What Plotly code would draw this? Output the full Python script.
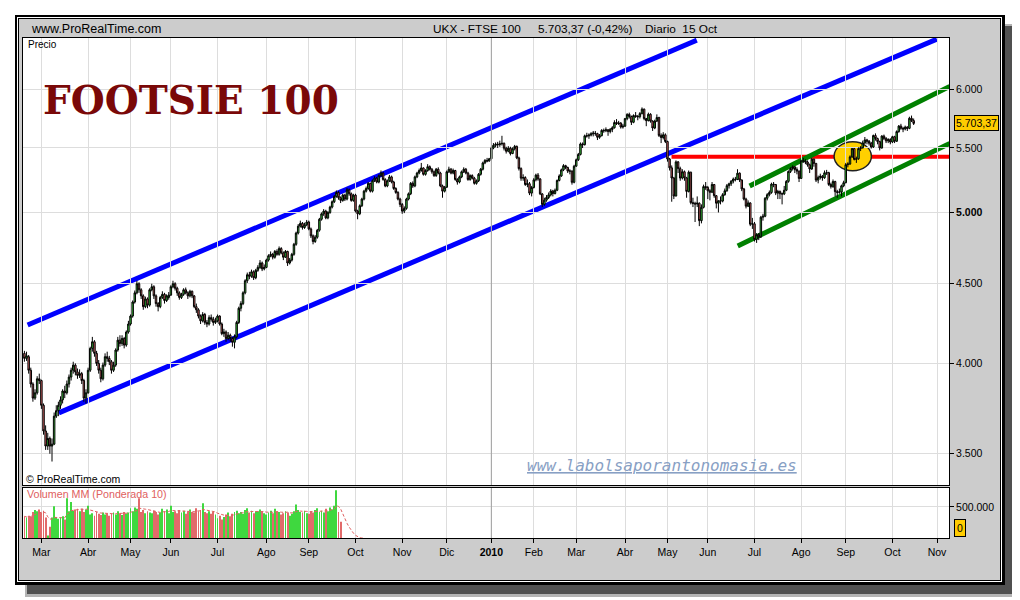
import numpy as np
import pandas as pd
import plotly.graph_objects as go

# FTSE 100 (UKX) daily candles
# one list per month, rows are (open, high, low, close)
feb09 = [(4060, 4075, 4010, 4030), (4030, 4070, 4015, 4045), (4040, 4050, 3940, 3960), (3960, 3975, 3860, 3880),
         (3880, 3890, 3780, 3800), (3800, 3850, 3790, 3830), (3830, 3925, 3820, 3910), (3910, 3940, 3880, 3900)]
mar09 = [(3900, 3905, 3740, 3760), (3760, 3770, 3600, 3620), (3620, 3650, 3520, 3540), (3540, 3610, 3520, 3580),
         (3580, 3590, 3500, 3540), (3540, 3580, 3460, 3550), (3550, 3720, 3545, 3700), (3700, 3760, 3690, 3730),
         (3730, 3780, 3700, 3760), (3760, 3810, 3740, 3790), (3790, 3850, 3770, 3840), (3840, 3870, 3800, 3830),
         (3830, 3900, 3820, 3880), (3880, 3935, 3860, 3920), (3920, 3975, 3900, 3960), (3960, 4010, 3940, 3990),
         (3990, 4000, 3930, 3950), (3950, 3970, 3910, 3930), (3930, 3965, 3915, 3940), (3940, 3950, 3880, 3900),
         (3900, 3910, 3780, 3800), (3800, 3850, 3770, 3830)]
apr09 = [(3830, 3975, 3825, 3960), (3960, 4100, 3950, 4090), (4090, 4160, 4070, 4130), (4130, 4140, 4040, 4060),
         (4060, 4075, 3985, 4000), (4000, 4020, 3940, 3960), (3960, 3975, 3890, 3910), (3910, 4005, 3900, 3990),
         (3990, 4060, 3980, 4040), (4040, 4070, 4010, 4030), (4030, 4045, 3990, 4010), (4010, 4020, 3940, 3960),
         (3960, 4010, 3950, 3990), (3990, 4090, 3980, 4080), (4080, 4160, 4070, 4140), (4140, 4170, 4100, 4120),
         (4120, 4170, 4105, 4150), (4150, 4160, 4090, 4110), (4110, 4200, 4100, 4190), (4190, 4260, 4180, 4240)]
may09 = [(4240, 4300, 4230, 4290), (4290, 4390, 4280, 4380), (4380, 4455, 4370, 4440), (4440, 4520, 4430, 4500),
         (4500, 4510, 4440, 4460), (4460, 4470, 4400, 4420), (4420, 4430, 4330, 4350), (4350, 4415, 4340, 4400),
         (4400, 4410, 4340, 4360), (4360, 4470, 4350, 4460), (4460, 4500, 4450, 4480), (4480, 4490, 4400, 4420),
         (4420, 4430, 4350, 4370), (4370, 4380, 4320, 4350), (4350, 4420, 4340, 4410), (4410, 4450, 4400, 4430),
         (4430, 4440, 4370, 4390), (4390, 4430, 4380, 4420), (4410, 4445, 4395, 4425)]
jun09 = [(4425, 4490, 4420, 4480), (4480, 4520, 4470, 4500), (4500, 4510, 4455, 4470), (4470, 4480, 4420, 4440),
         (4440, 4450, 4395, 4410), (4410, 4440, 4400, 4430), (4430, 4470, 4420, 4460), (4460, 4475, 4430, 4440),
         (4440, 4450, 4400, 4420), (4420, 4460, 4410, 4450), (4450, 4455, 4405, 4420), (4420, 4425, 4340, 4350),
         (4350, 4370, 4310, 4330), (4330, 4340, 4275, 4290), (4290, 4300, 4240, 4260), (4260, 4315, 4250, 4300),
         (4300, 4310, 4235, 4250), (4250, 4265, 4220, 4240), (4240, 4295, 4230, 4280), (4280, 4300, 4255, 4270),
         (4270, 4285, 4230, 4250), (4250, 4280, 4240, 4260)]
jul09 = [(4260, 4300, 4250, 4290), (4290, 4295, 4230, 4240), (4240, 4250, 4170, 4180), (4180, 4210, 4160, 4190),
         (4190, 4200, 4130, 4150), (4150, 4190, 4140, 4170), (4170, 4180, 4130, 4150), (4150, 4160, 4100, 4127),
         (4127, 4175, 4090, 4160), (4160, 4260, 4150, 4250), (4250, 4350, 4240, 4340), (4340, 4385, 4320, 4370),
         (4370, 4450, 4360, 4440), (4440, 4530, 4430, 4520), (4520, 4575, 4505, 4560), (4560, 4580, 4530, 4550),
         (4550, 4595, 4540, 4580), (4580, 4590, 4525, 4540), (4540, 4600, 4530, 4590), (4590, 4625, 4580, 4610),
         (4610, 4660, 4600, 4640), (4640, 4650, 4585, 4600), (4600, 4630, 4590, 4610)]
aug09 = [(4610, 4670, 4605, 4660), (4660, 4700, 4650, 4690), (4690, 4720, 4680, 4700), (4700, 4710, 4665, 4680),
         (4680, 4730, 4670, 4720), (4720, 4735, 4690, 4700), (4700, 4755, 4690, 4740), (4740, 4750, 4700, 4710),
         (4710, 4720, 4660, 4680), (4680, 4730, 4675, 4720), (4720, 4725, 4620, 4640), (4640, 4675, 4630, 4660),
         (4660, 4710, 4650, 4700), (4700, 4780, 4690, 4770), (4770, 4860, 4760, 4850), (4850, 4915, 4840, 4900),
         (4900, 4940, 4890, 4920), (4920, 4930, 4875, 4890), (4890, 4925, 4880, 4910), (4910, 4945, 4900, 4930)]
sep09 = [(4930, 4940, 4870, 4880), (4880, 4890, 4815, 4830), (4830, 4840, 4770, 4790), (4790, 4835, 4780, 4820),
         (4820, 4880, 4810, 4870), (4870, 4960, 4860, 4950), (4950, 5000, 4940, 4990), (4990, 5025, 4975, 5010),
         (5010, 5020, 4950, 4960), (4960, 5010, 4950, 5000), (5000, 5050, 4990, 5040), (5040, 5090, 5030, 5080),
         (5080, 5130, 5070, 5120), (5120, 5165, 5110, 5150), (5150, 5160, 5095, 5110), (5110, 5120, 5070, 5090),
         (5090, 5140, 5080, 5130), (5130, 5140, 5085, 5100), (5100, 5185, 5090, 5170), (5170, 5180, 5125, 5140),
         (5140, 5150, 5080, 5090), (5090, 5140, 5080, 5130)]
oct09 = [(5130, 5140, 5000, 5010), (5010, 5020, 4950, 4990), (4990, 5060, 4980, 5050), (5050, 5110, 5040, 5100),
         (5100, 5170, 5090, 5160), (5160, 5195, 5150, 5180), (5180, 5230, 5170, 5220), (5220, 5225, 5150, 5160),
         (5160, 5250, 5150, 5240), (5240, 5275, 5230, 5260), (5260, 5270, 5220, 5230), (5230, 5290, 5220, 5280),
         (5280, 5320, 5270, 5300), (5300, 5310, 5240, 5250), (5250, 5260, 5190, 5200), (5200, 5250, 5190, 5240),
         (5240, 5285, 5230, 5270), (5270, 5280, 5220, 5230), (5230, 5240, 5170, 5180), (5180, 5190, 5140, 5150),
         (5150, 5160, 5090, 5100), (5100, 5110, 5040, 5060)]
nov09 = [(5060, 5070, 4990, 5010), (5010, 5045, 4995, 5030), (5030, 5110, 5020, 5100), (5100, 5150, 5090, 5140),
         (5140, 5230, 5130, 5220), (5220, 5235, 5185, 5200), (5200, 5280, 5190, 5270), (5270, 5310, 5260, 5300),
         (5300, 5335, 5290, 5320), (5320, 5380, 5310, 5340), (5340, 5345, 5280, 5290), (5290, 5330, 5280, 5320),
         (5320, 5370, 5310, 5350), (5350, 5360, 5320, 5330), (5330, 5340, 5295, 5310), (5310, 5320, 5270, 5280),
         (5280, 5340, 5270, 5330), (5330, 5345, 5290, 5300), (5300, 5310, 5190, 5200), (5200, 5210, 5110, 5160),
         (5160, 5200, 5150, 5190)]
dec09 = [(5190, 5320, 5185, 5310), (5310, 5350, 5300, 5330), (5330, 5340, 5290, 5300), (5300, 5335, 5290, 5320),
         (5320, 5325, 5240, 5250), (5250, 5260, 5210, 5230), (5230, 5280, 5220, 5270), (5270, 5320, 5260, 5310),
         (5310, 5345, 5300, 5330), (5330, 5340, 5290, 5300), (5300, 5310, 5240, 5250), (5250, 5290, 5240, 5280),
         (5280, 5290, 5250, 5260), (5260, 5270, 5210, 5220), (5220, 5250, 5210, 5240), (5240, 5300, 5230, 5290),
         (5290, 5340, 5280, 5330), (5330, 5390, 5320, 5380), (5380, 5410, 5370, 5400), (5400, 5420, 5385, 5395),
         (5395, 5420, 5390, 5413)]
jan10 = [(5413, 5510, 5405, 5500), (5500, 5540, 5490, 5522), (5522, 5545, 5505, 5531), (5531, 5550, 5500, 5527),
         (5527, 5560, 5510, 5534), (5534, 5600, 5520, 5538), (5538, 5545, 5480, 5498), (5498, 5510, 5455, 5474),
         (5474, 5515, 5465, 5498), (5498, 5510, 5440, 5455), (5455, 5505, 5450, 5494), (5494, 5525, 5480, 5513),
         (5513, 5520, 5410, 5420), (5420, 5430, 5320, 5335), (5335, 5345, 5240, 5260), (5260, 5290, 5240, 5265),
         (5265, 5275, 5200, 5211), (5211, 5250, 5190, 5217), (5217, 5230, 5130, 5145), (5145, 5200, 5120, 5188)]
feb10 = [(5188, 5260, 5180, 5247), (5247, 5295, 5235, 5284), (5284, 5300, 5240, 5254), (5254, 5260, 5130, 5139),
         (5139, 5145, 5040, 5060), (5060, 5110, 5050, 5092), (5092, 5130, 5080, 5112), (5112, 5150, 5100, 5132),
         (5132, 5175, 5120, 5161), (5161, 5170, 5120, 5142), (5142, 5180, 5135, 5167), (5167, 5250, 5160, 5242),
         (5242, 5290, 5235, 5277), (5277, 5335, 5270, 5325), (5325, 5370, 5315, 5358), (5358, 5365, 5330, 5344),
         (5344, 5350, 5300, 5315), (5315, 5330, 5290, 5316), (5316, 5320, 5210, 5228), (5228, 5365, 5220, 5354)]
mar10 = [(5354, 5415, 5350, 5405), (5405, 5460, 5395, 5448), (5448, 5545, 5440, 5533), (5533, 5545, 5500, 5527),
         (5527, 5610, 5520, 5600), (5600, 5625, 5585, 5599), (5599, 5620, 5575, 5606), (5606, 5630, 5595, 5617),
         (5617, 5640, 5595, 5622), (5622, 5640, 5600, 5618), (5618, 5625, 5565, 5588), (5588, 5615, 5575, 5601),
         (5601, 5655, 5595, 5645), (5645, 5660, 5625, 5642), (5642, 5670, 5630, 5650), (5650, 5655, 5600, 5636),
         (5636, 5665, 5620, 5653), (5653, 5680, 5630, 5667), (5667, 5730, 5660, 5711), (5711, 5740, 5690, 5703),
         (5703, 5725, 5690, 5706), (5706, 5715, 5660, 5673), (5673, 5700, 5660, 5680)]
apr10 = [(5680, 5750, 5675, 5744), (5744, 5790, 5730, 5780), (5780, 5795, 5745, 5762), (5762, 5770, 5690, 5713),
         (5713, 5780, 5705, 5770), (5770, 5800, 5750, 5762), (5762, 5775, 5730, 5760), (5760, 5800, 5745, 5787),
         (5787, 5840, 5780, 5825), (5825, 5830, 5730, 5744), (5744, 5750, 5680, 5727), (5727, 5795, 5720, 5781),
         (5781, 5790, 5710, 5723), (5723, 5730, 5640, 5665), (5665, 5735, 5655, 5723), (5723, 5780, 5715, 5753),
         (5753, 5760, 5590, 5603), (5603, 5620, 5540, 5586), (5586, 5630, 5570, 5608), (5608, 5620, 5540, 5553)]
may10 = [(5553, 5560, 5390, 5411), (5411, 5420, 5320, 5341), (5341, 5360, 5080, 5261), (5261, 5270, 5100, 5123),
         (5123, 5400, 5120, 5388), (5388, 5395, 5300, 5335), (5335, 5350, 5240, 5261), (5261, 5330, 5250, 5310),
         (5310, 5320, 5240, 5262), (5262, 5270, 5110, 5158), (5158, 5320, 5150, 5307), (5307, 5310, 5060, 5073),
         (5073, 5110, 5040, 5068), (5068, 5080, 4930, 5063), (5063, 5120, 5040, 5069), (5069, 5075, 4900, 4940),
         (4940, 5060, 4920, 5038), (5038, 5210, 5030, 5195), (5195, 5230, 5170, 5188)]
jun10 = [(5188, 5200, 5100, 5163), (5163, 5175, 5090, 5152), (5152, 5230, 5145, 5211), (5211, 5215, 5110, 5126),
         (5126, 5130, 5030, 5069), (5069, 5090, 5000, 5087), (5087, 5120, 5060, 5085), (5085, 5145, 5075, 5133),
         (5133, 5180, 5125, 5163), (5163, 5215, 5155, 5202), (5202, 5225, 5180, 5217), (5217, 5245, 5200, 5237),
         (5237, 5265, 5220, 5253), (5253, 5270, 5235, 5250), (5250, 5330, 5245, 5299), (5299, 5305, 5230, 5246),
         (5246, 5250, 5160, 5177), (5177, 5185, 5090, 5100), (5100, 5110, 5030, 5047), (5047, 5090, 5040, 5071),
         (5071, 5075, 4900, 4914), (4914, 4960, 4880, 4917)]
jul10 = [(4917, 4930, 4790, 4805), (4805, 4850, 4780, 4838), (4838, 4850, 4800, 4823), (4823, 4975, 4815, 4965),
         (4965, 4990, 4940, 4972), (4972, 5115, 4965, 5106), (5106, 5145, 5090, 5133), (5133, 5165, 5120, 5150),
         (5150, 5225, 5140, 5214), (5214, 5230, 5190, 5211), (5211, 5215, 5130, 5145), (5145, 5170, 5100, 5158),
         (5158, 5165, 5100, 5140), (5140, 5150, 5060, 5139), (5139, 5200, 5130, 5167), (5167, 5245, 5160, 5235),
         (5235, 5320, 5225, 5313), (5313, 5345, 5300, 5336), (5336, 5360, 5320, 5349), (5349, 5355, 5300, 5328),
         (5328, 5345, 5290, 5315), (5315, 5320, 5230, 5258)]
aug10 = [(5258, 5405, 5255, 5397), (5397, 5420, 5380, 5396), (5396, 5410, 5370, 5387), (5387, 5400, 5350, 5365),
         (5365, 5375, 5300, 5332), (5332, 5420, 5325, 5410), (5410, 5415, 5350, 5376), (5376, 5380, 5230, 5245),
         (5245, 5280, 5220, 5266), (5266, 5295, 5250, 5275), (5275, 5285, 5240, 5263), (5263, 5320, 5255, 5302),
         (5302, 5325, 5285, 5303), (5303, 5310, 5200, 5211), (5211, 5225, 5180, 5195), (5195, 5250, 5185, 5234),
         (5234, 5240, 5120, 5156), (5156, 5170, 5110, 5151), (5151, 5180, 5140, 5154), (5154, 5210, 5120, 5201),
         (5201, 5240, 5190, 5225)]
sep10 = [(5225, 5380, 5220, 5366), (5366, 5385, 5345, 5371), (5371, 5440, 5365, 5428), (5428, 5500, 5420, 5495),
         (5495, 5500, 5400, 5408), (5408, 5430, 5380, 5413), (5413, 5505, 5405, 5495), (5495, 5515, 5475, 5502),
         (5502, 5560, 5495, 5541), (5541, 5590, 5530, 5566), (5566, 5575, 5530, 5555), (5555, 5565, 5520, 5539),
         (5539, 5550, 5495, 5508), (5508, 5610, 5500, 5602), (5602, 5620, 5560, 5577), (5577, 5585, 5530, 5552),
         (5552, 5560, 5480, 5500), (5500, 5605, 5495, 5598), (5598, 5610, 5565, 5578), (5578, 5590, 5540, 5558),
         (5558, 5580, 5540, 5569), (5569, 5580, 5530, 5549)]
oct10 = [(5549, 5600, 5540, 5592), (5592, 5600, 5540, 5555), (5555, 5645, 5550, 5635), (5635, 5690, 5625, 5681),
         (5681, 5700, 5650, 5662), (5662, 5675, 5630, 5657), (5657, 5685, 5645, 5672), (5672, 5680, 5640, 5662),
         (5662, 5760, 5655, 5747), (5747, 5770, 5715, 5727), (5727, 5745, 5690, 5703.37)]

months = [feb09, mar09, apr09, may09, jun09, jul09, aug09, sep09, oct09, nov09, dec09,
          jan10, feb10, mar10, apr10, may10, jun10, jul10, aug10, sep10, oct10]

# London market holidays inside the range (no candle on those days)
uk_holidays = ["2009-04-10", "2009-04-13", "2009-05-04", "2009-05-25", "2009-08-31",
               "2009-12-25", "2009-12-28", "2010-01-01", "2010-04-02", "2010-04-05",
               "2010-05-03", "2010-05-31", "2010-08-30"]

x_labels = ["Mar", "Abr", "May", "Jun", "Jul", "Ago", "Sep", "Oct", "Nov", "Dic", "<b>2010</b>",
            "Feb", "Mar", "Abr", "May", "Jun", "Jul", "Ago", "Sep", "Oct", "Nov"]
price_ticks = [3500, 4000, 4500, 5000, 5500, 6000]
price_ticktext = ["3.500", "4.000", "4.500", "<b>5.000</b>", "5.500", "6.000"]

# volume in thousands, only available until mid September 2009
volume_k = [350, 330, 360, 340, 420, 450, 430, 460, 410, 440,
            330, 40, 180, 330, 510, 340, 310, 330, 350, 300,
            640, 430, 580, 440, 460, 470, 430, 470, 420, 460,
            520, 380, 400, 360, 420, 390, 370, 410, 380, 400,
            360, 390, 410, 380, 430, 400, 370, 420, 390, 410,
            480, 430, 490, 470, 640, 420, 450, 400, 430, 410,
            400, 440, 420, 380, 410, 470, 430, 460, 400, 520,
            420, 430, 400, 450, 410, 440, 390, 430, 460, 420,
            410, 480, 430, 450, 560, 420, 400, 430, 390, 420,
            380, 320, 360, 300, 340, 380, 410, 350, 390, 420,
            440, 400, 420, 390, 450, 480, 410, 440, 400, 430,
            430, 460, 420, 400, 380, 410, 440, 400, 470, 430,
            420, 380, 400, 430, 410, 360, 390, 430, 540, 450,
            420, 410, 440, 400, 390, 430, 410, 450, 480, 420,
            440, 410, 470, 430, 490, 460, 520, 770, 420, 260]

# drawings on the chart: (trading day number, price) at both ends
blue_top = ([1.5, 316.8], [4234, 6450])
blue_bottom = ([16.2, 429.9], [3718, 6460])
green_top = ([341.7, 436.0], [5199, 6024])
green_bottom = ([336.1, 436.0], [4758, 5537])
red_level = ([304.9, 436.0], [5429, 5429])
circle_x = [381.5, 399.1]
circle_y = [5318, 5551]
last_price = 5703.37

price_range = [3342, 6471]
volume_range = [0, 806]
day_range = [-0.67, 435.65]

# ---- build ----
ohlc = [row for m in months for row in m]
n = len(ohlc)
days = list(range(n))
opens = [r[0] for r in ohlc]
highs = [r[1] for r in ohlc]
lows = [r[2] for r in ohlc]
closes = [r[3] for r in ohlc]

cal = pd.offsets.CustomBusinessDay(holidays=uk_holidays)
dates = pd.date_range("2009-02-18", "2010-12-31", freq=cal)
month_starts = [i for i in range(1, len(dates)) if dates[i].month != dates[i - 1].month]
tick_pos = month_starts[:len(x_labels)]
pos_2010 = tick_pos[x_labels.index("<b>2010</b>")]

vol_colors = ["#3fd83f" if closes[i] >= opens[i] else "#e26a6a" for i in range(len(volume_k))]

# weighted moving average (10) of the volume, falling to zero after data stops
vol_ext = np.array(volume_k + [0] * 11, dtype=float)
w = np.arange(1, 11)
wma = []
for i in range(len(vol_ext)):
    win = vol_ext[max(0, i - 9):i + 1]
    ww = w[-len(win):]
    wma.append(float((win * ww).sum() / ww.sum()))

# pixel helpers (positions measured on the 1020x600 screenshot; the page
# body adds an 8 px margin, so the figure itself is laid out 8 px up/left)
W, H = 1020, 600
OFF = 8
L_, R_, T_, B_ = 23, 949, 38, 538          # plot area on the screenshot
ML, MT = L_ - OFF, T_ - OFF
MR, MB = W - (R_ - OFF), H - (B_ - OFF)
PW, PH = R_ - L_, B_ - T_


def px(x):
    return (x - L_) / PW


def py(y):
    return (B_ - y) / PH


FONT = "Liberation Sans, Arial, sans-serif"

fig = go.Figure()

fig.add_trace(go.Candlestick(
    x=days, open=opens, high=highs, low=lows, close=closes,
    xaxis="x", yaxis="y", whiskerwidth=0,
    increasing=dict(fillcolor="#3fd83f", line=dict(color="black", width=1)),
    decreasing=dict(fillcolor="#e26a6a", line=dict(color="black", width=1)),
    hoverinfo="skip", showlegend=False))

fig.add_trace(go.Bar(
    x=days[:len(volume_k)], y=volume_k, width=0.4, xaxis="x2", yaxis="y2",
    marker=dict(color=vol_colors, line=dict(width=0)), hoverinfo="skip", showlegend=False))

fig.add_trace(go.Scatter(
    x=list(range(len(wma))), y=wma, mode="lines", xaxis="x2", yaxis="y2",
    line=dict(color="#e06060", width=1, dash="3px,2px"), hoverinfo="skip", showlegend=False))

shapes = []
# drop shadow and double frame
shapes.append(dict(type="rect", xref="paper", yref="paper", layer="below",
                   x0=px(25), x1=px(1018), y0=py(24), y1=py(597),
                   fillcolor="#b4b4b4", line=dict(width=0)))
shapes.append(dict(type="rect", xref="paper", yref="paper", layer="below",
                   x0=px(27), x1=px(1015), y0=py(26), y1=py(594),
                   fillcolor="#505050", line=dict(width=0)))
for (a, b, c, d, col) in [(15, 15, 1005, 585, "black"), (17, 17, 1002, 582, "white"),
                          (18, 18, 1001, 581, "black"), (19, 19, 1000, 580, "#cccccc")]:
    shapes.append(dict(type="rect", xref="paper", yref="paper", layer="below",
                       x0=px(a), x1=px(c), y0=py(b), y1=py(d),
                       fillcolor=col, line=dict(width=0)))
# white panes
shapes.append(dict(type="rect", xref="paper", yref="paper", layer="below",
                   x0=0, x1=1, y0=py(485), y1=1, fillcolor="white", line=dict(width=0)))
shapes.append(dict(type="rect", xref="paper", yref="paper", layer="below",
                   x0=0, x1=1, y0=0, y1=py(488), fillcolor="white", line=dict(width=0)))
# drawings (under the candles)
shapes.append(dict(type="line", xref="x", yref="y", layer="below",
                   x0=red_level[0][0], x1=red_level[0][1], y0=red_level[1][0], y1=red_level[1][1],
                   line=dict(color="#ff0000", width=4)))
shapes.append(dict(type="circle", xref="x", yref="y", layer="below",
                   x0=circle_x[0], x1=circle_x[1], y0=circle_y[0], y1=circle_y[1],
                   fillcolor="#ffd000", line=dict(color="#202020", width=1.5)))
for (xs, ys), col in [(blue_top, "#0000ff"), (blue_bottom, "#0000ff"),
                      (green_top, "#008000"), (green_bottom, "#008000")]:
    shapes.append(dict(type="line", xref="x", yref="y", layer="below",
                       x0=xs[0], x1=xs[1], y0=ys[0], y1=ys[1],
                       line=dict(color=col, width=5)))
# darker year line across both panes
for y0, y1 in [(py(485), 1), (0, py(488))]:
    shapes.append(dict(type="line", xref="x", yref="paper", layer="above",
                       x0=pos_2010, x1=pos_2010, y0=y0, y1=y1,
                       line=dict(color="#a0a0a0", width=1)))

ann = []


def text(x, y, s, size=12.5, color="black", anchor="left", family=FONT):
    ann.append(dict(xref="paper", yref="paper", x=px(x), y=py(y), text=s, showarrow=False,
                    xanchor=anchor, yanchor="middle",
                    font=dict(family=family, size=size, color=color)))


text(29, 29, "www.ProRealTime.com")
text(431, 29, "UKX - FTSE 100", size=11.8)
text(536, 29, "5.703,37 (-0,42%)", size=11.8)
text(643, 29, "Diario  15 Oct", size=11.8)
text(26, 44, "Precio", size=10)
text(24, 479, "© ProRealTime.com", size=10.5)
text(25, 494, "Volumen MM (Ponderada 10)", size=10.7, color="#e06060")
text(41, 100, "<b>FOOTSIE 100</b>", size=39, color="#7a0808", family="DejaVu Serif, serif")
ann.append(dict(xref="paper", yref="paper", x=px(662), y=py(465), showarrow=False,
                text="www.labolsaporantonomasia.es", xanchor="center", yanchor="middle",
                font=dict(family="DejaVu Sans Mono, monospace", size=16, color="#88a0c4",
                          style="italic", lineposition="under")))
ann.append(dict(xref="paper", yref="y", x=px(954), y=np.log10(last_price), showarrow=False,
                text="5.703,37", xanchor="left", yanchor="middle",
                bgcolor="#ffcc00", bordercolor="black", borderwidth=1, borderpad=1,
                font=dict(family=FONT, size=10.5, color="black")))
ann.append(dict(xref="paper", yref="paper", x=px(954), y=py(528), showarrow=False,
                text="0", xanchor="left", yanchor="middle",
                bgcolor="#ffcc00", bordercolor="black", borderwidth=1, borderpad=2,
                font=dict(family=FONT, size=10.5, color="black")))

axis_common = dict(showline=True, mirror=True, linecolor="black", linewidth=1,
                   gridcolor="#dddddd", gridwidth=1, zeroline=False, fixedrange=True)

fig.update_layout(
    width=W, height=H, margin=dict(l=ML, r=MR, t=MT, b=MB),
    paper_bgcolor="white", plot_bgcolor="rgba(0,0,0,0)", showlegend=False,
    boxgap=0.0,
    shapes=shapes, annotations=ann,
    xaxis=dict(domain=[0, 1], anchor="y", range=day_range, tickmode="array",
               tickvals=tick_pos, showticklabels=False, ticks="",
               rangeslider=dict(visible=False), **axis_common),
    xaxis2=dict(domain=[0, 1], anchor="y2", matches="x", range=day_range, tickmode="array",
                tickvals=tick_pos, ticktext=x_labels, ticks="outside", ticklen=4,
                tickcolor="black", tickfont=dict(family=FONT, size=10.5, color="black"),
                **axis_common),
    yaxis=dict(domain=[py(485), 1], anchor="x", type="log", side="right",
               range=[np.log10(price_range[0]), np.log10(price_range[1])],
               tickmode="array", tickvals=price_ticks, ticktext=price_ticktext,
               ticks="outside", ticklen=4, tickcolor="black",
               tickfont=dict(family=FONT, size=10.5, color="black"), **axis_common),
    yaxis2=dict(domain=[0, py(488)], anchor="x2", side="right", range=volume_range,
                tickmode="array", tickvals=[500], ticktext=["500.000"],
                ticks="outside", ticklen=4, tickcolor="black",
                tickfont=dict(family=FONT, size=10.5, color="black"), **axis_common),
)

fig.write_html("out.html")
